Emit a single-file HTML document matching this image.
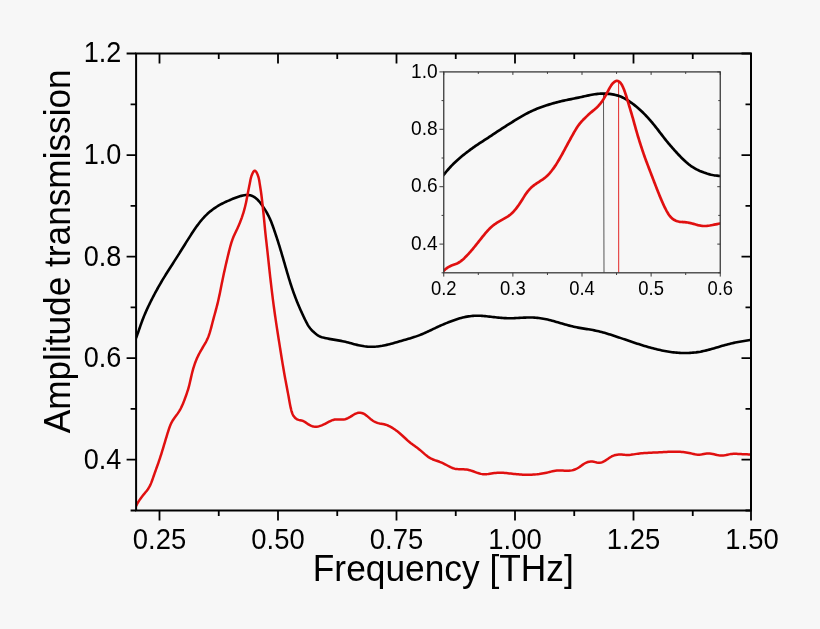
<!DOCTYPE html>
<html lang="en"><head><meta charset="utf-8"><title>Amplitude transmission vs Frequency</title>
<style>html,body{margin:0;padding:0;background:#f7f7f7;}body{width:820px;height:629px;overflow:hidden}svg text{white-space:pre}</style>
</head><body>
<svg width="820" height="629" viewBox="0 0 820 629" style="display:block">
<rect width="820" height="629" fill="#f7f7f7"/>
<clipPath id="mc"><rect x="136.1" y="53.5" width="614.9" height="457.0"/></clipPath>
<g clip-path="url(#mc)" fill="none" stroke-linejoin="round" stroke-linecap="butt">
<path d="M133.00,345.00 L133.65,343.65 L134.27,342.28 L134.87,340.91 L135.45,339.53 L136.00,338.14 L136.54,336.74 L137.07,335.34 L137.58,333.93 L138.08,332.52 L138.58,331.11 L139.07,329.69 L139.55,328.27 L140.04,326.86 L140.53,325.44 L141.03,324.03 L141.53,322.62 L142.05,321.21 L142.57,319.81 L143.11,318.41 L143.67,317.02 L144.24,315.63 L144.82,314.25 L145.41,312.88 L146.01,311.50 L146.62,310.14 L147.25,308.77 L147.88,307.41 L148.52,306.06 L149.17,304.71 L149.82,303.36 L150.49,302.01 L151.15,300.67 L151.83,299.33 L152.51,298.00 L153.20,296.67 L153.89,295.34 L154.59,294.01 L155.30,292.69 L156.01,291.37 L156.73,290.06 L157.45,288.75 L158.18,287.44 L158.92,286.14 L159.66,284.83 L160.41,283.54 L161.17,282.24 L161.93,280.96 L162.70,279.67 L163.47,278.39 L164.25,277.11 L165.04,275.83 L165.83,274.56 L166.62,273.29 L167.42,272.02 L168.22,270.76 L169.03,269.49 L169.83,268.23 L170.64,266.97 L171.45,265.71 L172.26,264.45 L173.07,263.19 L173.88,261.92 L174.69,260.66 L175.49,259.40 L176.30,258.14 L177.10,256.88 L177.90,255.61 L178.70,254.34 L179.50,253.08 L180.29,251.81 L181.08,250.54 L181.87,249.27 L182.66,248.00 L183.46,246.73 L184.25,245.46 L185.04,244.19 L185.83,242.92 L186.63,241.65 L187.43,240.38 L188.23,239.11 L189.03,237.85 L189.84,236.59 L190.65,235.33 L191.47,234.07 L192.29,232.81 L193.12,231.56 L193.96,230.31 L194.80,229.07 L195.66,227.83 L196.52,226.60 L197.40,225.38 L198.29,224.18 L199.20,222.98 L200.13,221.81 L201.07,220.64 L202.04,219.50 L203.02,218.37 L204.03,217.26 L205.07,216.18 L206.13,215.12 L207.21,214.08 L208.32,213.07 L209.46,212.08 L210.61,211.12 L211.79,210.19 L212.99,209.28 L214.21,208.41 L215.45,207.56 L216.71,206.74 L217.99,205.96 L219.28,205.20 L220.59,204.47 L221.91,203.77 L223.25,203.09 L224.60,202.43 L225.96,201.79 L227.32,201.17 L228.69,200.57 L230.07,199.97 L231.45,199.39 L232.83,198.82 L234.22,198.26 L235.62,197.73 L237.03,197.22 L238.45,196.74 L239.88,196.29 L241.33,195.87 L242.80,195.51 L244.28,195.23 L245.76,195.05 L247.26,195.00 L248.77,195.09 L250.26,195.34 L251.71,195.76 L253.09,196.34 L254.39,197.08 L255.61,197.96 L256.76,198.94 L257.84,200.00 L258.87,201.12 L259.84,202.26 L260.78,203.44 L261.67,204.64 L262.54,205.86 L263.37,207.10 L264.19,208.35 L264.99,209.62 L265.77,210.90 L266.53,212.19 L267.26,213.50 L267.97,214.82 L268.66,216.16 L269.31,217.50 L269.94,218.86 L270.54,220.24 L271.11,221.62 L271.66,223.01 L272.19,224.42 L272.71,225.82 L273.21,227.24 L273.71,228.65 L274.20,230.07 L274.68,231.49 L275.16,232.91 L275.64,234.33 L276.11,235.75 L276.58,237.17 L277.05,238.59 L277.51,240.02 L277.96,241.44 L278.41,242.87 L278.86,244.30 L279.30,245.73 L279.74,247.16 L280.18,248.60 L280.61,250.03 L281.04,251.46 L281.47,252.90 L281.90,254.34 L282.32,255.77 L282.74,257.21 L283.16,258.65 L283.58,260.09 L284.00,261.53 L284.41,262.97 L284.83,264.41 L285.24,265.85 L285.66,267.28 L286.08,268.72 L286.49,270.16 L286.91,271.60 L287.33,273.04 L287.75,274.48 L288.18,275.91 L288.61,277.35 L289.05,278.78 L289.48,280.21 L289.93,281.64 L290.38,283.07 L290.84,284.50 L291.30,285.92 L291.77,287.35 L292.25,288.77 L292.74,290.18 L293.23,291.60 L293.74,293.01 L294.25,294.42 L294.77,295.82 L295.30,297.23 L295.84,298.63 L296.39,300.02 L296.94,301.41 L297.50,302.80 L298.07,304.19 L298.65,305.57 L299.24,306.95 L299.83,308.32 L300.43,309.69 L301.04,311.05 L301.66,312.41 L302.29,313.77 L302.92,315.13 L303.56,316.48 L304.20,317.84 L304.85,319.20 L305.51,320.55 L306.19,321.91 L306.88,323.24 L307.61,324.56 L308.38,325.85 L309.21,327.09 L310.09,328.29 L311.05,329.44 L312.07,330.53 L313.15,331.57 L314.27,332.57 L315.42,333.55 L316.60,334.49 L317.83,335.35 L319.12,336.11 L320.47,336.72 L321.89,337.21 L323.34,337.61 L324.81,337.96 L326.28,338.28 L327.75,338.58 L329.21,338.87 L330.68,339.14 L332.16,339.40 L333.64,339.64 L335.12,339.87 L336.60,340.11 L338.08,340.35 L339.55,340.60 L341.03,340.87 L342.50,341.16 L343.96,341.48 L345.41,341.82 L346.86,342.19 L348.31,342.57 L349.76,342.97 L351.20,343.36 L352.65,343.76 L354.10,344.15 L355.55,344.52 L357.00,344.88 L358.47,345.22 L359.94,345.53 L361.41,345.81 L362.89,346.06 L364.38,346.28 L365.87,346.46 L367.36,346.60 L368.85,346.70 L370.35,346.76 L371.85,346.77 L373.35,346.75 L374.85,346.68 L376.35,346.57 L377.84,346.42 L379.33,346.24 L380.82,346.03 L382.30,345.79 L383.77,345.51 L385.24,345.21 L386.70,344.88 L388.16,344.54 L389.61,344.17 L391.06,343.79 L392.50,343.40 L393.94,342.99 L395.39,342.58 L396.83,342.17 L398.27,341.75 L399.71,341.33 L401.15,340.92 L402.60,340.51 L404.04,340.10 L405.49,339.69 L406.93,339.28 L408.37,338.86 L409.81,338.44 L411.24,338.00 L412.67,337.56 L414.10,337.10 L415.52,336.63 L416.93,336.14 L418.34,335.63 L419.74,335.10 L421.13,334.55 L422.51,333.98 L423.88,333.39 L425.25,332.78 L426.61,332.16 L427.97,331.53 L429.33,330.89 L430.68,330.25 L432.03,329.60 L433.39,328.95 L434.74,328.30 L436.10,327.66 L437.45,327.02 L438.81,326.40 L440.18,325.78 L441.55,325.17 L442.92,324.57 L444.30,323.99 L445.68,323.41 L447.07,322.84 L448.46,322.29 L449.86,321.75 L451.26,321.21 L452.66,320.69 L454.08,320.18 L455.49,319.68 L456.91,319.21 L458.34,318.75 L459.78,318.31 L461.22,317.91 L462.67,317.53 L464.13,317.19 L465.59,316.88 L467.07,316.61 L468.55,316.38 L470.04,316.18 L471.53,316.02 L473.03,315.90 L474.53,315.81 L476.03,315.76 L477.53,315.75 L479.02,315.77 L480.52,315.82 L482.01,315.91 L483.51,316.01 L485.00,316.14 L486.49,316.28 L487.98,316.44 L489.47,316.61 L490.96,316.78 L492.45,316.95 L493.94,317.13 L495.44,317.30 L496.93,317.46 L498.42,317.61 L499.92,317.75 L501.41,317.88 L502.91,317.99 L504.40,318.08 L505.90,318.16 L507.39,318.21 L508.89,318.24 L510.38,318.25 L511.88,318.23 L513.37,318.19 L514.87,318.13 L516.37,318.06 L517.86,317.98 L519.36,317.90 L520.86,317.81 L522.35,317.73 L523.85,317.65 L525.35,317.59 L526.85,317.54 L528.34,317.51 L529.84,317.50 L531.34,317.52 L532.84,317.57 L534.34,317.64 L535.84,317.74 L537.33,317.87 L538.83,318.03 L540.32,318.22 L541.80,318.43 L543.28,318.68 L544.75,318.95 L546.22,319.25 L547.68,319.58 L549.14,319.93 L550.59,320.30 L552.03,320.69 L553.48,321.09 L554.92,321.50 L556.36,321.92 L557.80,322.35 L559.23,322.77 L560.67,323.20 L562.11,323.62 L563.55,324.04 L565.00,324.45 L566.44,324.85 L567.89,325.24 L569.34,325.62 L570.79,325.99 L572.24,326.35 L573.70,326.69 L575.16,327.02 L576.63,327.33 L578.09,327.62 L579.57,327.89 L581.04,328.14 L582.52,328.39 L584.00,328.63 L585.48,328.86 L586.96,329.10 L588.44,329.33 L589.92,329.57 L591.40,329.82 L592.87,330.09 L594.34,330.37 L595.81,330.67 L597.27,330.99 L598.73,331.33 L600.18,331.69 L601.64,332.06 L603.08,332.45 L604.53,332.85 L605.97,333.27 L607.40,333.70 L608.84,334.14 L610.27,334.58 L611.70,335.04 L613.12,335.50 L614.54,335.97 L615.97,336.44 L617.39,336.92 L618.80,337.40 L620.22,337.89 L621.64,338.38 L623.05,338.86 L624.47,339.35 L625.88,339.84 L627.30,340.33 L628.72,340.81 L630.14,341.30 L631.56,341.78 L632.98,342.25 L634.40,342.72 L635.82,343.19 L637.25,343.65 L638.67,344.11 L640.10,344.56 L641.53,345.01 L642.96,345.45 L644.40,345.88 L645.83,346.31 L647.27,346.73 L648.71,347.14 L650.15,347.54 L651.60,347.94 L653.05,348.33 L654.50,348.70 L655.95,349.07 L657.41,349.43 L658.87,349.77 L660.33,350.10 L661.79,350.42 L663.26,350.72 L664.73,351.01 L666.20,351.28 L667.68,351.53 L669.16,351.77 L670.65,351.98 L672.13,352.18 L673.62,352.36 L675.12,352.52 L676.61,352.66 L678.11,352.78 L679.60,352.87 L681.10,352.95 L682.60,353.00 L684.10,353.03 L685.60,353.03 L687.10,353.01 L688.60,352.96 L690.10,352.89 L691.60,352.80 L693.09,352.67 L694.58,352.52 L696.07,352.35 L697.56,352.14 L699.04,351.91 L700.51,351.66 L701.98,351.37 L703.45,351.07 L704.91,350.74 L706.36,350.38 L707.82,350.02 L709.27,349.63 L710.71,349.24 L712.16,348.83 L713.60,348.41 L715.04,347.99 L716.47,347.56 L717.91,347.13 L719.35,346.71 L720.78,346.28 L722.22,345.86 L723.66,345.44 L725.10,345.03 L726.55,344.64 L727.99,344.25 L729.44,343.89 L730.90,343.54 L732.36,343.20 L733.82,342.88 L735.29,342.58 L736.76,342.29 L738.23,342.01 L739.70,341.74 L741.18,341.48 L742.66,341.22 L744.14,340.98 L745.61,340.74 L747.09,340.50 L748.58,340.28 L750.06,340.06 L751.54,339.86 L753.03,339.66 L754.51,339.47 L756.00,339.30" stroke="#000" stroke-width="2.6"/>
<path d="M133.00,512.00 L133.66,510.66 L134.33,509.32 L135.01,507.98 L135.70,506.64 L136.41,505.32 L137.13,504.00 L137.88,502.70 L138.66,501.42 L139.47,500.15 L140.31,498.91 L141.18,497.69 L142.10,496.50 L143.04,495.32 L144.00,494.16 L144.96,493.00 L145.91,491.83 L146.83,490.65 L147.71,489.45 L148.53,488.21 L149.29,486.92 L149.98,485.61 L150.62,484.25 L151.21,482.88 L151.76,481.48 L152.29,480.06 L152.79,478.63 L153.29,477.20 L153.78,475.77 L154.27,474.34 L154.77,472.92 L155.28,471.51 L155.78,470.09 L156.29,468.68 L156.79,467.27 L157.30,465.87 L157.80,464.46 L158.30,463.05 L158.79,461.63 L159.27,460.21 L159.74,458.79 L160.21,457.37 L160.67,455.94 L161.13,454.51 L161.58,453.08 L162.02,451.65 L162.47,450.21 L162.90,448.78 L163.34,447.34 L163.77,445.90 L164.20,444.47 L164.63,443.03 L165.06,441.60 L165.48,440.17 L165.92,438.73 L166.35,437.30 L166.78,435.86 L167.22,434.43 L167.67,432.99 L168.12,431.55 L168.58,430.11 L169.05,428.68 L169.55,427.25 L170.08,425.84 L170.65,424.45 L171.28,423.09 L171.96,421.77 L172.72,420.48 L173.54,419.23 L174.40,418.01 L175.30,416.80 L176.20,415.60 L177.09,414.38 L177.94,413.15 L178.76,411.89 L179.54,410.60 L180.28,409.29 L180.98,407.97 L181.64,406.62 L182.27,405.26 L182.87,403.89 L183.45,402.50 L184.00,401.11 L184.53,399.70 L185.05,398.30 L185.56,396.88 L186.06,395.47 L186.56,394.05 L187.04,392.63 L187.52,391.21 L187.97,389.78 L188.40,388.34 L188.81,386.90 L189.19,385.45 L189.55,384.00 L189.89,382.54 L190.23,381.08 L190.55,379.61 L190.88,378.15 L191.21,376.68 L191.55,375.22 L191.90,373.76 L192.26,372.30 L192.64,370.84 L193.04,369.39 L193.46,367.95 L193.90,366.51 L194.36,365.08 L194.85,363.67 L195.36,362.26 L195.90,360.86 L196.47,359.47 L197.07,358.10 L197.70,356.74 L198.35,355.39 L199.03,354.05 L199.73,352.72 L200.45,351.41 L201.19,350.10 L201.95,348.80 L202.72,347.50 L203.49,346.20 L204.25,344.91 L205.00,343.61 L205.73,342.30 L206.43,340.97 L207.09,339.64 L207.71,338.28 L208.28,336.90 L208.81,335.51 L209.30,334.09 L209.77,332.67 L210.20,331.23 L210.61,329.78 L211.00,328.33 L211.38,326.87 L211.76,325.41 L212.13,323.95 L212.50,322.49 L212.88,321.03 L213.27,319.57 L213.66,318.12 L214.06,316.67 L214.45,315.23 L214.85,313.78 L215.25,312.34 L215.64,310.89 L216.03,309.45 L216.42,308.00 L216.79,306.55 L217.16,305.10 L217.53,303.65 L217.88,302.19 L218.22,300.73 L218.55,299.27 L218.87,297.81 L219.19,296.34 L219.50,294.87 L219.81,293.40 L220.11,291.93 L220.40,290.46 L220.70,288.99 L220.99,287.52 L221.29,286.05 L221.58,284.58 L221.87,283.10 L222.17,281.63 L222.47,280.16 L222.77,278.69 L223.08,277.23 L223.39,275.76 L223.70,274.30 L224.02,272.83 L224.34,271.37 L224.66,269.90 L224.99,268.44 L225.32,266.98 L225.65,265.52 L225.99,264.06 L226.33,262.60 L226.67,261.14 L227.02,259.68 L227.36,258.22 L227.71,256.76 L228.07,255.30 L228.42,253.84 L228.78,252.37 L229.14,250.91 L229.51,249.45 L229.88,248.00 L230.27,246.54 L230.67,245.09 L231.10,243.65 L231.54,242.22 L232.01,240.79 L232.51,239.38 L233.04,237.98 L233.60,236.59 L234.20,235.22 L234.84,233.86 L235.49,232.51 L236.14,231.16 L236.79,229.81 L237.43,228.45 L238.04,227.08 L238.64,225.71 L239.23,224.33 L239.80,222.94 L240.35,221.54 L240.88,220.14 L241.40,218.73 L241.91,217.32 L242.39,215.89 L242.86,214.46 L243.31,213.03 L243.75,211.59 L244.16,210.15 L244.56,208.70 L244.94,207.25 L245.30,205.80 L245.64,204.34 L245.95,202.89 L246.26,201.43 L246.55,199.97 L246.83,198.50 L247.11,197.02 L247.39,195.54 L247.67,194.05 L247.97,192.56 L248.26,191.05 L248.57,189.55 L248.87,188.05 L249.17,186.57 L249.46,185.11 L249.74,183.68 L250.00,182.28 L250.26,180.91 L250.52,179.55 L250.84,178.16 L251.25,176.72 L251.77,175.19 L252.46,173.54 L253.31,171.91 L254.26,170.79 L255.25,170.73 L256.20,171.76 L257.06,173.37 L257.76,175.04 L258.30,176.58 L258.70,178.03 L259.01,179.42 L259.26,180.79 L259.48,182.16 L259.70,183.57 L259.93,185.01 L260.16,186.48 L260.40,187.97 L260.63,189.48 L260.86,191.00 L261.08,192.51 L261.28,194.02 L261.48,195.53 L261.66,197.02 L261.84,198.51 L262.01,200.00 L262.17,201.48 L262.33,202.96 L262.49,204.44 L262.66,205.93 L262.82,207.42 L262.98,208.91 L263.15,210.40 L263.31,211.89 L263.47,213.39 L263.63,214.88 L263.78,216.37 L263.93,217.87 L264.07,219.36 L264.22,220.85 L264.36,222.35 L264.50,223.84 L264.65,225.33 L264.79,226.82 L264.93,228.32 L265.08,229.81 L265.23,231.30 L265.38,232.79 L265.54,234.28 L265.70,235.77 L265.86,237.27 L266.02,238.76 L266.19,240.25 L266.35,241.74 L266.52,243.23 L266.69,244.72 L266.85,246.21 L267.02,247.70 L267.19,249.19 L267.35,250.68 L267.52,252.17 L267.68,253.66 L267.85,255.16 L268.01,256.65 L268.17,258.14 L268.33,259.63 L268.49,261.12 L268.65,262.61 L268.81,264.10 L268.98,265.59 L269.14,267.08 L269.30,268.58 L269.46,270.07 L269.62,271.56 L269.78,273.05 L269.95,274.54 L270.11,276.03 L270.28,277.52 L270.45,279.01 L270.62,280.50 L270.79,281.99 L270.96,283.48 L271.13,284.97 L271.31,286.46 L271.48,287.95 L271.66,289.44 L271.84,290.93 L272.02,292.42 L272.21,293.91 L272.39,295.40 L272.58,296.88 L272.76,298.37 L272.95,299.86 L273.15,301.35 L273.34,302.83 L273.53,304.32 L273.73,305.81 L273.93,307.29 L274.13,308.78 L274.34,310.27 L274.54,311.75 L274.75,313.24 L274.96,314.72 L275.17,316.21 L275.39,317.69 L275.60,319.18 L275.82,320.66 L276.04,322.14 L276.27,323.63 L276.49,325.11 L276.72,326.59 L276.94,328.08 L277.17,329.56 L277.40,331.04 L277.63,332.52 L277.86,334.00 L278.10,335.49 L278.33,336.97 L278.56,338.45 L278.80,339.93 L279.03,341.41 L279.27,342.89 L279.50,344.37 L279.74,345.85 L279.97,347.34 L280.21,348.82 L280.44,350.30 L280.68,351.78 L280.92,353.26 L281.15,354.74 L281.39,356.22 L281.63,357.70 L281.87,359.18 L282.11,360.66 L282.35,362.14 L282.59,363.62 L282.84,365.10 L283.09,366.58 L283.34,368.06 L283.59,369.54 L283.85,371.02 L284.10,372.50 L284.36,373.97 L284.63,375.45 L284.90,376.93 L285.17,378.40 L285.44,379.88 L285.72,381.35 L285.99,382.83 L286.27,384.30 L286.56,385.78 L286.84,387.25 L287.12,388.72 L287.40,390.20 L287.68,391.67 L287.95,393.14 L288.23,394.62 L288.50,396.09 L288.76,397.56 L289.02,399.04 L289.29,400.51 L289.55,401.99 L289.83,403.46 L290.11,404.93 L290.42,406.40 L290.74,407.87 L291.08,409.33 L291.46,410.80 L291.88,412.25 L292.39,413.66 L293.02,415.03 L293.80,416.32 L294.76,417.51 L295.88,418.54 L297.16,419.34 L298.56,419.86 L300.03,420.18 L301.51,420.47 L302.93,420.91 L304.25,421.56 L305.52,422.37 L306.77,423.24 L308.05,424.11 L309.38,424.91 L310.75,425.60 L312.16,426.17 L313.59,426.56 L315.06,426.75 L316.53,426.73 L318.02,426.51 L319.49,426.14 L320.94,425.64 L322.36,425.06 L323.74,424.43 L325.09,423.76 L326.42,423.08 L327.74,422.39 L329.07,421.71 L330.43,421.05 L331.81,420.43 L333.23,419.92 L334.68,419.55 L336.16,419.39 L337.66,419.38 L339.17,419.46 L340.69,419.56 L342.19,419.60 L343.67,419.51 L345.12,419.23 L346.53,418.77 L347.92,418.17 L349.27,417.46 L350.59,416.67 L351.89,415.83 L353.18,414.99 L354.47,414.22 L355.81,413.56 L357.21,413.07 L358.69,412.82 L360.21,412.80 L361.72,413.03 L363.14,413.49 L364.47,414.16 L365.72,414.98 L366.91,415.92 L368.08,416.91 L369.24,417.92 L370.42,418.91 L371.62,419.85 L372.86,420.72 L374.13,421.50 L375.45,422.17 L376.82,422.70 L378.25,423.11 L379.71,423.43 L381.20,423.70 L382.69,423.97 L384.17,424.29 L385.62,424.68 L387.03,425.18 L388.41,425.77 L389.77,426.43 L391.09,427.16 L392.38,427.93 L393.66,428.73 L394.90,429.57 L396.13,430.44 L397.33,431.34 L398.51,432.26 L399.67,433.22 L400.80,434.20 L401.92,435.20 L403.03,436.22 L404.12,437.24 L405.22,438.27 L406.32,439.29 L407.43,440.30 L408.55,441.29 L409.70,442.25 L410.86,443.19 L412.05,444.09 L413.26,444.98 L414.47,445.86 L415.69,446.73 L416.90,447.61 L418.11,448.51 L419.30,449.43 L420.47,450.39 L421.62,451.38 L422.76,452.38 L423.89,453.39 L425.03,454.38 L426.19,455.34 L427.37,456.26 L428.58,457.12 L429.83,457.90 L431.13,458.60 L432.47,459.22 L433.84,459.78 L435.25,460.30 L436.67,460.80 L438.09,461.30 L439.52,461.80 L440.94,462.34 L442.35,462.93 L443.72,463.58 L445.08,464.28 L446.43,465.01 L447.76,465.74 L449.10,466.45 L450.45,467.12 L451.81,467.72 L453.19,468.24 L454.59,468.66 L456.03,468.94 L457.51,469.11 L459.00,469.20 L460.51,469.23 L462.03,469.25 L463.55,469.29 L465.05,469.38 L466.54,469.54 L468.01,469.81 L469.46,470.16 L470.90,470.57 L472.33,471.04 L473.76,471.55 L475.19,472.07 L476.62,472.58 L478.06,473.07 L479.51,473.51 L480.97,473.87 L482.43,474.13 L483.91,474.26 L485.39,474.25 L486.87,474.13 L488.36,473.93 L489.86,473.68 L491.35,473.43 L492.85,473.20 L494.35,473.02 L495.84,472.88 L497.34,472.80 L498.84,472.75 L500.33,472.75 L501.83,472.79 L503.32,472.87 L504.82,472.97 L506.32,473.09 L507.81,473.24 L509.31,473.40 L510.80,473.56 L512.29,473.73 L513.79,473.89 L515.28,474.05 L516.77,474.20 L518.27,474.33 L519.76,474.46 L521.26,474.57 L522.75,474.66 L524.25,474.72 L525.75,474.77 L527.25,474.79 L528.75,474.79 L530.25,474.76 L531.76,474.70 L533.25,474.62 L534.75,474.52 L536.25,474.38 L537.74,474.22 L539.23,474.04 L540.71,473.82 L542.19,473.58 L543.66,473.32 L545.14,473.03 L546.61,472.71 L548.07,472.36 L549.54,472.00 L551.00,471.64 L552.47,471.29 L553.94,470.98 L555.41,470.73 L556.89,470.55 L558.38,470.46 L559.88,470.45 L561.39,470.50 L562.90,470.58 L564.41,470.68 L565.92,470.75 L567.42,470.79 L568.91,470.75 L570.40,470.62 L571.87,470.38 L573.33,470.01 L574.76,469.52 L576.15,468.93 L577.50,468.24 L578.80,467.47 L580.04,466.63 L581.26,465.75 L582.47,464.87 L583.71,464.03 L585.00,463.25 L586.36,462.58 L587.79,462.04 L589.26,461.67 L590.76,461.51 L592.26,461.57 L593.76,461.81 L595.26,462.14 L596.75,462.48 L598.22,462.72 L599.68,462.77 L601.11,462.56 L602.52,462.10 L603.89,461.44 L605.24,460.66 L606.54,459.80 L607.81,458.93 L609.07,458.07 L610.32,457.24 L611.60,456.49 L612.92,455.84 L614.30,455.31 L615.74,454.92 L617.23,454.66 L618.75,454.53 L620.26,454.50 L621.77,454.58 L623.27,454.70 L624.76,454.85 L626.25,454.96 L627.74,455.00 L629.23,454.95 L630.71,454.81 L632.20,454.61 L633.69,454.38 L635.18,454.13 L636.67,453.88 L638.16,453.66 L639.65,453.47 L641.15,453.31 L642.64,453.18 L644.14,453.07 L645.63,452.97 L647.13,452.89 L648.63,452.82 L650.12,452.74 L651.62,452.67 L653.11,452.60 L654.61,452.53 L656.10,452.45 L657.60,452.38 L659.10,452.30 L660.60,452.23 L662.10,452.15 L663.60,452.07 L665.10,451.99 L666.61,451.92 L668.11,451.85 L669.62,451.78 L671.13,451.72 L672.64,451.68 L674.14,451.65 L675.65,451.64 L677.15,451.66 L678.65,451.70 L680.14,451.77 L681.64,451.88 L683.12,452.02 L684.60,452.19 L686.08,452.42 L687.55,452.67 L689.02,452.97 L690.49,453.28 L691.96,453.62 L693.43,453.97 L694.91,454.30 L696.39,454.57 L697.88,454.73 L699.36,454.73 L700.85,454.58 L702.33,454.33 L703.82,454.03 L705.30,453.75 L706.79,453.55 L708.27,453.48 L709.76,453.56 L711.24,453.75 L712.73,454.01 L714.22,454.33 L715.71,454.66 L717.19,454.97 L718.68,455.23 L720.17,455.42 L721.65,455.51 L723.13,455.46 L724.61,455.28 L726.09,455.02 L727.56,454.70 L729.04,454.39 L730.52,454.11 L732.01,453.91 L733.50,453.81 L735.00,453.78 L736.51,453.81 L738.01,453.88 L739.51,453.97 L741.02,454.06 L742.52,454.14 L744.01,454.22 L745.51,454.29 L747.01,454.35 L748.51,454.41 L750.00,454.46 L751.50,454.51 L753.00,454.54 L754.50,454.58 L756.00,454.60" stroke="#e01010" stroke-width="2.5"/>
</g>
<g stroke="#000" fill="none">
<rect x="136.1" y="53.5" width="614.9" height="457.0" stroke-width="2.0"/>
<path d="M159.5,510.5v10M159.5,53.5v10M278.0,510.5v10M278.0,53.5v10M396.5,510.5v10M396.5,53.5v10M515.0,510.5v10M515.0,53.5v10M633.5,510.5v10M633.5,53.5v10M751.0,510.5v10M218.75,510.5v5.5M218.75,53.5v5.5M337.25,510.5v5.5M337.25,53.5v5.5M455.75,510.5v5.5M455.75,53.5v5.5M574.25,510.5v5.5M574.25,53.5v5.5M692.75,510.5v5.5M692.75,53.5v5.5M136.1,53.50h-9.5M751.0,53.50h-9.5M136.1,155.06h-9.5M751.0,155.06h-9.5M136.1,256.61h-9.5M751.0,256.61h-9.5M136.1,358.17h-9.5M751.0,358.17h-9.5M136.1,459.72h-9.5M751.0,459.72h-9.5M136.1,104.28h-5.5M751.0,104.28h-5.5M136.1,205.83h-5.5M751.0,205.83h-5.5M136.1,307.39h-5.5M751.0,307.39h-5.5M136.1,408.94h-5.5M751.0,408.94h-5.5M136.1,510.50h-5.5M751.0,510.50h-5.5" stroke-width="1.8"/>
</g>
<clipPath id="ic"><rect x="443.75" y="71.9" width="276.5" height="200.9"/></clipPath>
<g clip-path="url(#ic)" fill="none" stroke-linejoin="round">
<path d="M603.5,94.5L604.0,272.8" stroke="#222" stroke-width="0.75"/>
<path d="M618.6,81L618.7,272.8" stroke="#e01010" stroke-width="0.9"/>
<path d="M438.00,182.00 L438.92,180.82 L439.84,179.65 L440.76,178.47 L441.68,177.30 L442.62,176.13 L443.55,174.96 L444.50,173.80 L445.45,172.64 L446.41,171.50 L447.38,170.36 L448.36,169.24 L449.36,168.12 L450.37,167.02 L451.39,165.93 L452.43,164.86 L453.48,163.80 L454.56,162.76 L455.64,161.73 L456.74,160.72 L457.85,159.72 L458.97,158.73 L460.11,157.75 L461.25,156.79 L462.40,155.83 L463.56,154.89 L464.73,153.96 L465.91,153.03 L467.09,152.11 L468.28,151.21 L469.47,150.31 L470.68,149.42 L471.88,148.55 L473.10,147.68 L474.32,146.82 L475.55,145.97 L476.79,145.13 L478.03,144.30 L479.28,143.47 L480.53,142.66 L481.78,141.84 L483.03,141.03 L484.29,140.22 L485.54,139.40 L486.80,138.59 L488.05,137.77 L489.30,136.95 L490.54,136.13 L491.79,135.30 L493.03,134.47 L494.27,133.64 L495.51,132.81 L496.76,131.98 L498.00,131.15 L499.25,130.33 L500.50,129.51 L501.75,128.70 L503.01,127.88 L504.26,127.08 L505.52,126.27 L506.78,125.47 L508.05,124.67 L509.31,123.87 L510.58,123.08 L511.84,122.29 L513.11,121.50 L514.38,120.71 L515.65,119.93 L516.93,119.15 L518.21,118.37 L519.49,117.61 L520.78,116.85 L522.08,116.11 L523.38,115.37 L524.68,114.64 L526.00,113.93 L527.32,113.23 L528.65,112.55 L529.99,111.88 L531.33,111.23 L532.69,110.60 L534.05,109.98 L535.42,109.39 L536.80,108.82 L538.19,108.27 L539.59,107.74 L540.99,107.22 L542.40,106.73 L543.82,106.24 L545.24,105.77 L546.66,105.31 L548.08,104.85 L549.51,104.41 L550.94,103.97 L552.37,103.55 L553.81,103.13 L555.25,102.73 L556.69,102.34 L558.14,101.97 L559.59,101.61 L561.04,101.26 L562.50,100.93 L563.96,100.60 L565.42,100.29 L566.88,99.98 L568.34,99.68 L569.81,99.38 L571.27,99.09 L572.74,98.79 L574.20,98.49 L575.67,98.18 L577.13,97.88 L578.59,97.57 L580.05,97.26 L581.51,96.95 L582.97,96.63 L584.43,96.30 L585.89,95.98 L587.35,95.66 L588.81,95.35 L590.28,95.05 L591.74,94.76 L593.22,94.50 L594.69,94.27 L596.17,94.07 L597.66,93.90 L599.15,93.77 L600.64,93.67 L602.14,93.62 L603.63,93.60 L605.13,93.63 L606.62,93.70 L608.11,93.81 L609.60,93.96 L611.08,94.16 L612.56,94.40 L614.04,94.68 L615.50,95.00 L616.95,95.38 L618.39,95.81 L619.81,96.29 L621.20,96.83 L622.57,97.43 L623.91,98.09 L625.22,98.80 L626.52,99.55 L627.79,100.34 L629.04,101.16 L630.28,102.02 L631.50,102.89 L632.70,103.78 L633.89,104.68 L635.07,105.61 L636.23,106.55 L637.38,107.51 L638.51,108.48 L639.63,109.47 L640.73,110.48 L641.82,111.50 L642.90,112.54 L643.96,113.59 L645.01,114.65 L646.05,115.73 L647.07,116.82 L648.08,117.92 L649.08,119.04 L650.07,120.16 L651.04,121.29 L652.01,122.43 L652.96,123.58 L653.91,124.74 L654.85,125.90 L655.77,127.07 L656.70,128.25 L657.61,129.43 L658.52,130.62 L659.43,131.81 L660.33,132.99 L661.24,134.18 L662.15,135.37 L663.06,136.55 L663.98,137.73 L664.90,138.91 L665.83,140.08 L666.77,141.24 L667.72,142.39 L668.67,143.54 L669.64,144.69 L670.60,145.83 L671.58,146.96 L672.56,148.08 L673.55,149.21 L674.54,150.32 L675.55,151.43 L676.55,152.53 L677.57,153.63 L678.59,154.72 L679.63,155.80 L680.67,156.87 L681.72,157.94 L682.78,158.99 L683.85,160.03 L684.94,161.05 L686.05,162.05 L687.19,163.03 L688.34,163.98 L689.52,164.90 L690.72,165.79 L691.95,166.64 L693.21,167.45 L694.49,168.21 L695.80,168.94 L697.13,169.63 L698.47,170.28 L699.84,170.90 L701.22,171.48 L702.61,172.04 L704.01,172.57 L705.43,173.07 L706.85,173.54 L708.28,173.97 L709.72,174.37 L711.17,174.72 L712.64,175.03 L714.11,175.29 L715.58,175.51 L717.07,175.70 L718.55,175.86 L720.04,176.00 L721.53,176.13 L723.03,176.25 L724.51,176.37 L726.00,176.50" stroke="#000" stroke-width="2.7"/>
<path d="M440.00,275.00 L440.92,273.84 L441.90,272.70 L442.92,271.59 L443.99,270.52 L445.11,269.50 L446.28,268.55 L447.51,267.68 L448.78,266.89 L450.11,266.20 L451.49,265.60 L452.89,265.07 L454.31,264.56 L455.72,264.03 L457.09,263.45 L458.41,262.76 L459.68,261.98 L460.91,261.11 L462.08,260.17 L463.23,259.18 L464.34,258.14 L465.42,257.08 L466.48,256.01 L467.53,254.92 L468.55,253.82 L469.56,252.71 L470.55,251.59 L471.52,250.45 L472.49,249.31 L473.44,248.16 L474.39,247.00 L475.33,245.84 L476.26,244.67 L477.19,243.50 L478.12,242.32 L479.04,241.15 L479.97,239.97 L480.90,238.79 L481.84,237.62 L482.78,236.45 L483.73,235.29 L484.69,234.13 L485.65,232.98 L486.64,231.84 L487.64,230.71 L488.66,229.61 L489.71,228.54 L490.79,227.50 L491.91,226.50 L493.06,225.55 L494.24,224.64 L495.46,223.77 L496.71,222.94 L497.99,222.14 L499.28,221.37 L500.59,220.62 L501.91,219.89 L503.23,219.17 L504.55,218.44 L505.85,217.69 L507.13,216.92 L508.37,216.09 L509.58,215.21 L510.74,214.27 L511.85,213.26 L512.92,212.21 L513.96,211.11 L514.95,209.97 L515.90,208.80 L516.82,207.61 L517.71,206.41 L518.58,205.18 L519.42,203.95 L520.24,202.70 L521.06,201.44 L521.87,200.17 L522.67,198.91 L523.48,197.64 L524.29,196.37 L525.12,195.11 L525.97,193.86 L526.84,192.63 L527.75,191.44 L528.69,190.27 L529.68,189.15 L530.72,188.08 L531.81,187.06 L532.95,186.09 L534.13,185.16 L535.34,184.27 L536.58,183.41 L537.84,182.58 L539.11,181.76 L540.37,180.95 L541.63,180.14 L542.88,179.30 L544.09,178.43 L545.26,177.50 L546.40,176.53 L547.49,175.50 L548.54,174.43 L549.55,173.31 L550.53,172.17 L551.48,171.00 L552.40,169.80 L553.30,168.59 L554.17,167.37 L555.01,166.13 L555.84,164.88 L556.65,163.62 L557.44,162.35 L558.22,161.06 L558.98,159.78 L559.73,158.48 L560.48,157.18 L561.21,155.87 L561.94,154.56 L562.66,153.24 L563.38,151.93 L564.09,150.61 L564.80,149.29 L565.51,147.97 L566.22,146.64 L566.92,145.32 L567.63,144.01 L568.35,142.69 L569.06,141.37 L569.78,140.06 L570.50,138.74 L571.22,137.43 L571.95,136.12 L572.69,134.81 L573.43,133.50 L574.17,132.20 L574.93,130.89 L575.70,129.60 L576.50,128.32 L577.31,127.06 L578.15,125.82 L579.03,124.61 L579.94,123.42 L580.90,122.27 L581.90,121.15 L582.93,120.06 L583.98,119.00 L585.06,117.95 L586.13,116.90 L587.22,115.87 L588.31,114.84 L589.42,113.83 L590.54,112.84 L591.68,111.86 L592.83,110.90 L593.99,109.94 L595.13,108.97 L596.26,107.98 L597.35,106.95 L598.39,105.88 L599.39,104.76 L600.34,103.60 L601.26,102.41 L602.13,101.19 L602.97,99.94 L603.78,98.68 L604.56,97.40 L605.31,96.10 L606.04,94.79 L606.74,93.46 L607.44,92.13 L608.13,90.80 L608.84,89.48 L609.56,88.17 L610.30,86.87 L611.08,85.59 L611.94,84.37 L612.91,83.22 L614.03,82.18 L615.34,81.31 L616.77,80.82 L618.20,81.02 L619.50,81.84 L620.60,82.96 L621.47,84.18 L622.19,85.48 L622.84,86.83 L623.44,88.20 L624.00,89.59 L624.53,90.99 L625.03,92.41 L625.51,93.84 L625.98,95.27 L626.43,96.70 L626.88,98.13 L627.31,99.56 L627.75,101.00 L628.17,102.43 L628.60,103.87 L629.03,105.30 L629.46,106.74 L629.89,108.18 L630.32,109.61 L630.75,111.05 L631.18,112.49 L631.60,113.92 L632.03,115.36 L632.44,116.80 L632.86,118.24 L633.26,119.69 L633.67,121.13 L634.07,122.58 L634.47,124.02 L634.86,125.47 L635.26,126.91 L635.67,128.36 L636.07,129.80 L636.48,131.24 L636.90,132.68 L637.32,134.12 L637.75,135.56 L638.18,136.99 L638.62,138.43 L639.07,139.86 L639.51,141.29 L639.97,142.72 L640.42,144.15 L640.88,145.57 L641.34,147.00 L641.81,148.42 L642.28,149.85 L642.76,151.27 L643.24,152.69 L643.72,154.11 L644.22,155.52 L644.72,156.94 L645.23,158.35 L645.74,159.75 L646.27,161.16 L646.79,162.56 L647.32,163.97 L647.86,165.37 L648.39,166.77 L648.93,168.17 L649.46,169.57 L650.00,170.97 L650.54,172.37 L651.07,173.77 L651.61,175.17 L652.15,176.57 L652.68,177.97 L653.22,179.37 L653.76,180.77 L654.29,182.17 L654.83,183.57 L655.37,184.97 L655.91,186.37 L656.46,187.77 L657.00,189.16 L657.55,190.56 L658.10,191.96 L658.66,193.35 L659.22,194.74 L659.79,196.13 L660.36,197.51 L660.94,198.89 L661.53,200.27 L662.12,201.64 L662.73,203.01 L663.34,204.37 L663.97,205.73 L664.61,207.08 L665.28,208.42 L665.97,209.75 L666.69,211.08 L667.44,212.39 L668.22,213.69 L669.06,214.96 L669.96,216.18 L670.94,217.31 L672.01,218.35 L673.20,219.26 L674.49,220.04 L675.86,220.68 L677.28,221.19 L678.74,221.55 L680.22,221.80 L681.71,221.97 L683.21,222.09 L684.71,222.21 L686.20,222.34 L687.69,222.53 L689.16,222.80 L690.61,223.13 L692.06,223.50 L693.51,223.91 L694.96,224.32 L696.41,224.72 L697.87,225.09 L699.34,225.41 L700.83,225.68 L702.32,225.87 L703.81,225.98 L705.31,225.99 L706.80,225.91 L708.29,225.74 L709.77,225.51 L711.26,225.24 L712.73,224.95 L714.21,224.66 L715.68,224.36 L717.15,224.06 L718.61,223.77 L720.08,223.48 L721.56,223.21 L723.03,222.96 L724.51,222.72 L726.00,222.50" stroke="#e01010" stroke-width="2.7"/>
</g>
<g stroke="#3a3a3a" fill="none">
<rect x="443.75" y="71.9" width="276.5" height="200.9" stroke-width="1.3"/>
<path d="M443.75,272.8v3.8M443.75,71.9v3M512.88,272.8v3.8M512.88,71.9v3M582.00,272.8v3.8M582.00,71.9v3M651.12,272.8v3.8M651.12,71.9v3M720.25,272.8v3.8M720.25,71.9v3M478.31,272.8v2.2M478.31,71.9v2M547.44,272.8v2.2M547.44,71.9v2M616.56,272.8v2.2M616.56,71.9v2M685.69,272.8v2.2M685.69,71.9v2M443.75,71.90h-4.3M720.25,71.90h-3M443.75,129.30h-4.3M720.25,129.30h-3M443.75,186.70h-4.3M720.25,186.70h-3M443.75,244.10h-4.3M720.25,244.10h-3M443.75,100.60h-2.2M720.25,100.60h-2M443.75,158.00h-2.2M720.25,158.00h-2M443.75,215.40h-2.2M720.25,215.40h-2M443.75,272.80h-2.2M720.25,272.80h-2" stroke-width="1"/>
</g>
<g style="font-family:'Liberation Sans',Arial,Helvetica,sans-serif" fill="#000">
<text x="159.5" y="548.5" font-size="29" text-anchor="middle" textLength="53.3" lengthAdjust="spacingAndGlyphs">0.25</text>
<text x="278.0" y="548.5" font-size="29" text-anchor="middle" textLength="53.3" lengthAdjust="spacingAndGlyphs">0.50</text>
<text x="396.5" y="548.5" font-size="29" text-anchor="middle" textLength="53.3" lengthAdjust="spacingAndGlyphs">0.75</text>
<text x="515.0" y="548.5" font-size="29" text-anchor="middle" textLength="53.3" lengthAdjust="spacingAndGlyphs">1.00</text>
<text x="633.5" y="548.5" font-size="29" text-anchor="middle" textLength="53.3" lengthAdjust="spacingAndGlyphs">1.25</text>
<text x="752.0" y="548.5" font-size="29" text-anchor="middle" textLength="53.3" lengthAdjust="spacingAndGlyphs">1.50</text>
<text x="121.3" y="62.40" font-size="29" text-anchor="end" textLength="37.6" lengthAdjust="spacingAndGlyphs">1.2</text>
<text x="121.3" y="163.96" font-size="29" text-anchor="end" textLength="37.6" lengthAdjust="spacingAndGlyphs">1.0</text>
<text x="121.3" y="265.51" font-size="29" text-anchor="end" textLength="37.6" lengthAdjust="spacingAndGlyphs">0.8</text>
<text x="121.3" y="367.07" font-size="29" text-anchor="end" textLength="37.6" lengthAdjust="spacingAndGlyphs">0.6</text>
<text x="121.3" y="468.62" font-size="29" text-anchor="end" textLength="37.6" lengthAdjust="spacingAndGlyphs">0.4</text>
<text x="443.75" y="294.6" font-size="19.8" text-anchor="middle" textLength="25.6" lengthAdjust="spacingAndGlyphs">0.2</text>
<text x="512.88" y="294.6" font-size="19.8" text-anchor="middle" textLength="25.6" lengthAdjust="spacingAndGlyphs">0.3</text>
<text x="582.00" y="294.6" font-size="19.8" text-anchor="middle" textLength="25.6" lengthAdjust="spacingAndGlyphs">0.4</text>
<text x="651.12" y="294.6" font-size="19.8" text-anchor="middle" textLength="25.6" lengthAdjust="spacingAndGlyphs">0.5</text>
<text x="720.25" y="294.6" font-size="19.8" text-anchor="middle" textLength="25.6" lengthAdjust="spacingAndGlyphs">0.6</text>
<text x="437.6" y="77.50" font-size="19.8" text-anchor="end" textLength="26.6" lengthAdjust="spacingAndGlyphs">1.0</text>
<text x="437.6" y="134.90" font-size="19.8" text-anchor="end" textLength="26.6" lengthAdjust="spacingAndGlyphs">0.8</text>
<text x="437.6" y="192.30" font-size="19.8" text-anchor="end" textLength="26.6" lengthAdjust="spacingAndGlyphs">0.6</text>
<text x="437.6" y="249.70" font-size="19.8" text-anchor="end" textLength="26.6" lengthAdjust="spacingAndGlyphs">0.4</text>
<text x="443.3" y="581.0" font-size="37.5" text-anchor="middle" textLength="261" lengthAdjust="spacingAndGlyphs">Frequency [THz]</text>
<text transform="translate(70.3,251.3) rotate(-90)" font-size="37" text-anchor="middle" textLength="364" lengthAdjust="spacingAndGlyphs">Amplitude transmission</text>
</g>
</svg>
</body></html>
